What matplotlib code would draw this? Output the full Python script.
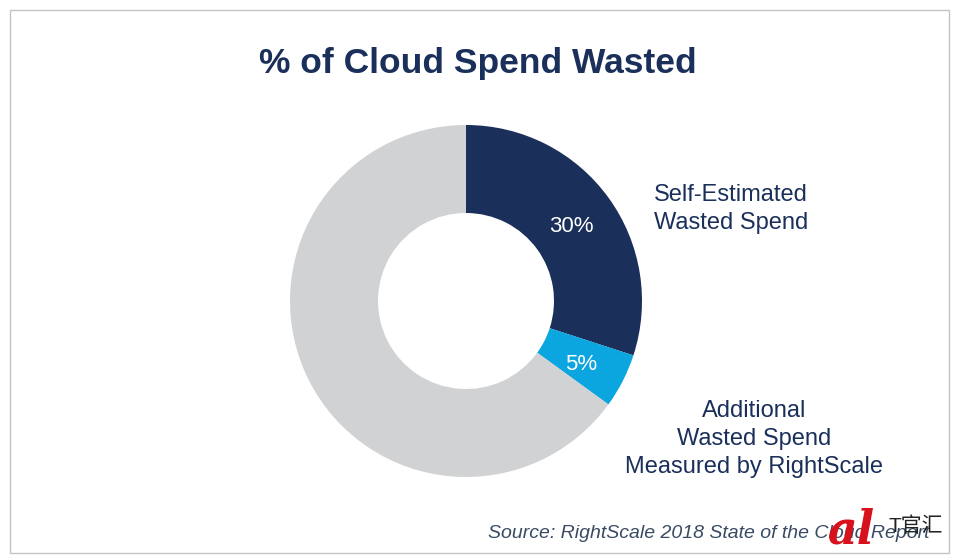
import matplotlib
matplotlib.use("Agg")
import matplotlib.pyplot as plt
from matplotlib.patches import Rectangle

plt.rcParams['font.family'] = ['Liberation Sans', 'Noto Sans CJK SC', 'DejaVu Sans']

title = "% of Cloud Spend Wasted"
values = [30, 5, 65]
colors = ["#1a2f5a", "#0ba5e0", "#d0d2d4"]
pct_labels = ["30%", "5%"]
source = "Source: RightScale 2018 State of the Cloud Report"
navy = "#1a2f5a"

fig = plt.figure(figsize=(9.6, 5.59), dpi=100)
ax = fig.add_axes([0, 0, 1, 1])

# outer frame
ax.add_patch(Rectangle((10, 10), 939, 543, fill=False, ec="#c4c4c4", lw=1))

# y axis is flipped below, so start at 270 to land at 12 o'clock
ax.pie(values, colors=colors, startangle=270, counterclock=True, radius=176,
       center=(466, 301), wedgeprops=dict(width=88), frame=False)
ax.set_xlim(0, 960)
ax.set_ylim(559, 0)
ax.set_aspect("equal")
ax.axis("off")

ax.text(478, 64, title, color=navy, fontsize=25.5, fontweight="bold", ha="center", va="center")
ax.text(571, 226, pct_labels[0], color="white", fontsize=16, ha="center", va="center")
ax.text(581, 364, pct_labels[1], color="white", fontsize=16, ha="center", va="center")
ax.text(731, 209, "Self-Estimated\nWasted Spend", color=navy, fontsize=17, ha="center", va="center", linespacing=1.3)
ax.text(754, 439, "Additional\nWasted Spend\nMeasured by RightScale", color=navy, fontsize=17, ha="center", va="center", linespacing=1.33)
ax.text(488, 533, source, color="#3a4a63", fontsize=14, style="italic", ha="left", va="center")

# watermark in the corner, it sits on top of the source line in the reference too
ax.text(851, 530, "al", color="#d8121c", fontsize=33, style="italic", fontweight="bold",
        family="DejaVu Serif", ha="center", va="center")
ax.text(916, 526, "T官汇", color="#222222", fontsize=15, ha="center", va="center")

fig.savefig("out.png", dpi=100)
